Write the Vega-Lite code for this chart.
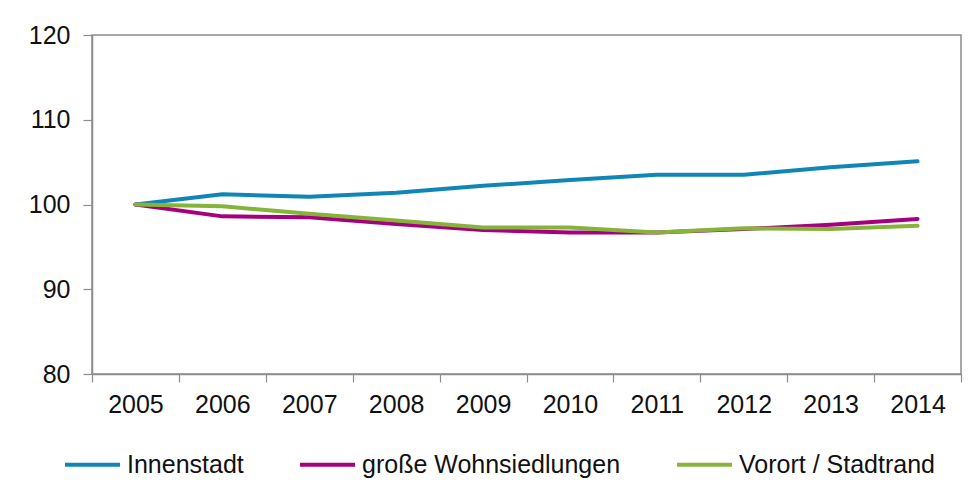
{
  "$schema": "https://vega.github.io/schema/vega-lite/v6.json",
  "width": 869,
  "height": 339,
  "autosize": {"type": "none"},
  "padding": {"left": 92, "top": 35, "right": 18, "bottom": 122},
  "background": "white",
  "config": {
    "font": "Liberation Sans",
    "view": {"stroke": "#8c8c8c", "strokeWidth": 1.5},
    "axis": {"labelFont": "Liberation Sans", "labelFontSize": 25, "labelColor": "#111111", "domainColor": "#8c8c8c", "tickColor": "#8c8c8c", "domainWidth": 1.5, "tickWidth": 1.2, "grid": false, "title": null}
  },
  "data": {
    "values": [
      {"year": "2005", "series": "Innenstadt", "value": 100.0},
      {"year": "2006", "series": "Innenstadt", "value": 101.2},
      {"year": "2007", "series": "Innenstadt", "value": 100.9},
      {"year": "2008", "series": "Innenstadt", "value": 101.4},
      {"year": "2009", "series": "Innenstadt", "value": 102.2},
      {"year": "2010", "series": "Innenstadt", "value": 102.9},
      {"year": "2011", "series": "Innenstadt", "value": 103.5},
      {"year": "2012", "series": "Innenstadt", "value": 103.5},
      {"year": "2013", "series": "Innenstadt", "value": 104.4},
      {"year": "2014", "series": "Innenstadt", "value": 105.1},
      {"year": "2005", "series": "große Wohnsiedlungen", "value": 100.0},
      {"year": "2006", "series": "große Wohnsiedlungen", "value": 98.6},
      {"year": "2007", "series": "große Wohnsiedlungen", "value": 98.5},
      {"year": "2008", "series": "große Wohnsiedlungen", "value": 97.7},
      {"year": "2009", "series": "große Wohnsiedlungen", "value": 97.0},
      {"year": "2010", "series": "große Wohnsiedlungen", "value": 96.7},
      {"year": "2011", "series": "große Wohnsiedlungen", "value": 96.7},
      {"year": "2012", "series": "große Wohnsiedlungen", "value": 97.1},
      {"year": "2013", "series": "große Wohnsiedlungen", "value": 97.6},
      {"year": "2014", "series": "große Wohnsiedlungen", "value": 98.3},
      {"year": "2005", "series": "Vorort / Stadtrand", "value": 100.0},
      {"year": "2006", "series": "Vorort / Stadtrand", "value": 99.8},
      {"year": "2007", "series": "Vorort / Stadtrand", "value": 98.9},
      {"year": "2008", "series": "Vorort / Stadtrand", "value": 98.1},
      {"year": "2009", "series": "Vorort / Stadtrand", "value": 97.3},
      {"year": "2010", "series": "Vorort / Stadtrand", "value": 97.3},
      {"year": "2011", "series": "Vorort / Stadtrand", "value": 96.7},
      {"year": "2012", "series": "Vorort / Stadtrand", "value": 97.2},
      {"year": "2013", "series": "Vorort / Stadtrand", "value": 97.1},
      {"year": "2014", "series": "Vorort / Stadtrand", "value": 97.5}
    ]
  },
  "mark": {"type": "line", "strokeWidth": 4, "strokeCap": "round", "strokeJoin": "round"},
  "encoding": {
    "x": {
      "field": "year", "type": "ordinal", "bandPosition": 0.5,
      "scale": {"type": "band", "paddingInner": 0, "paddingOuter": 0},
      "axis": {"labelAngle": 0, "tickBand": "extent", "tickSize": 8, "labelPadding": 10}
    },
    "y": {
      "field": "value", "type": "quantitative",
      "scale": {"domain": [80, 120], "zero": false, "nice": false},
      "axis": {"values": [80, 90, 100, 110, 120], "tickSize": 9, "labelPadding": 13}
    },
    "color": {
      "field": "series", "type": "nominal",
      "sort": ["Innenstadt", "große Wohnsiedlungen", "Vorort / Stadtrand"],
      "scale": {"domain": ["Innenstadt", "große Wohnsiedlungen", "Vorort / Stadtrand"], "range": ["#0f86b6", "#a6007e", "#86b43a"]},
      "legend": {
        "title": null, "orient": "none", "direction": "horizontal",
        "legendX": -29, "legendY": 400,
        "symbolType": "stroke", "symbolSize": 3025, "symbolStrokeWidth": 4,
        "labelFont": "Liberation Sans", "labelFontSize": 25, "labelColor": "#111111", "labelOffset": 5, "labelLimit": 400,
        "columnPadding": 48, "padding": 0
      }
    }
  }
}
